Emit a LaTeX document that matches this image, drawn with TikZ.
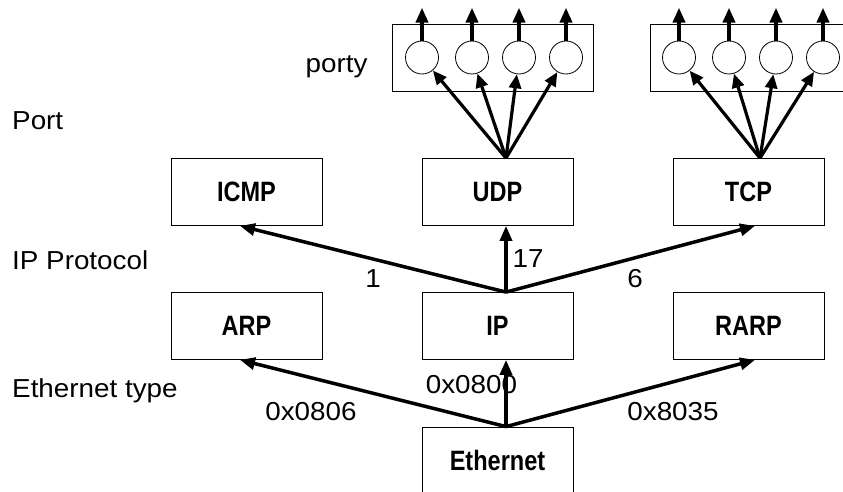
\documentclass[tikz,border=0pt]{standalone}
\usepackage{fontspec}
\setmainfont{Liberation Sans}
\usepackage{graphicx}
\usetikzlibrary{arrows.meta,calc}
\newcommand{\lbltext}[1]{{\fontsize{26}{30}\selectfont\scalebox{1.07}[1]{#1}}}
\newcommand{\boxtext}[1]{{\fontsize{28}{32}\selectfont\bfseries\scalebox{0.84}[1]{#1}}}
\begin{document}
\begin{tikzpicture}[x=1pt,y=-1pt,
  pbox/.style={draw, line width=0.8pt, minimum width=151pt, minimum height=67pt, inner sep=0pt},
  portbox/.style={draw, line width=0.8pt, minimum width=201pt, minimum height=67pt, inner sep=0pt},
  portc/.style={circle, draw, line width=0.8pt, minimum size=33pt, inner sep=0pt},
  flow/.style={line width=3.5pt, -{Triangle[length=15pt,width=12pt]}},
  fan/.style={line width=3.2pt, -{Triangle[length=14pt,width=12pt]}},
  upar/.style={line width=4pt, -{Triangle[length=15pt,width=12pt]}},
  lbl/.style={anchor=base, inner sep=0pt},
  side/.style={anchor=base west, inner sep=0pt}]
\clip (0,0) rectangle (843,492);
\fill[white] (0,0) rectangle (843,492);

% side labels
\node[side] (lport) at (12,129) {\lbltext{Port}};
\node[side] (lipp) at (12,269) {\lbltext{IP Protocol}};
\node[side] (leth) at (12,397) {\lbltext{Ethernet type}};
\node[lbl] (lporty) at (336.5,73) {\lbltext{porty}};

% boxes
\node[pbox] (ICMP) at (246.5,192) {\boxtext{ICMP}};
\node[pbox] (UDP) at (497.5,192) {\boxtext{UDP}};
\node[pbox] (TCP) at (748.5,192) {\boxtext{TCP}};
\node[pbox] (ARP) at (246.5,326) {\boxtext{ARP}};
\node[pbox] (IP) at (497.5,326) {\boxtext{IP}};
\node[pbox] (RARP) at (748.5,326) {\boxtext{RARP}};
\node[pbox] (ETH) at (497.5,460.5) {\boxtext{Ethernet}};

% port boxes and circles
\node[portbox] (PU) at (492.5,57.5) {};
\node[portbox] (PT) at (750.5,57.5) {};
\foreach \n/\x in {1/422,2/472,3/519,4/566,5/679,6/729,7/776,8/823}{
  \node[portc] (c\n) at (\x,57.5) {};
  \coordinate (u\n) at ($(c\n.north)+(0,-33)$);
  \draw[upar] (c\n.north) -- (u\n);
}

% edge labels
\node[lbl] (l1) at (373,287) {\lbltext{1}};
\node[lbl] (l17) at (528,267) {\lbltext{17}};
\node[lbl] (l6) at (635,287) {\lbltext{6}};
\node[lbl] (l0806) at (311,420) {\lbltext{0x0806}};
\node[lbl] (l0800) at (471.5,393) {\lbltext{0x0800}};
\node[lbl] (l8035) at (673,420) {\lbltext{0x8035}};

% connection points
\coordinate (udpTop) at ($(UDP.north)+(8.5,0)$);
\coordinate (tcpTop) at ($(TCP.north)+(11.5,0)$);
\coordinate (ipTop) at ($(IP.north)+(8.5,0)$);
\coordinate (ethTop) at ($(ETH.north)+(8.5,0)$);
\coordinate (icmpIn) at ($(ICMP.south)+(-6.5,0)$);
\coordinate (udpIn) at ($(UDP.south)+(8.5,0)$);
\coordinate (tcpIn) at ($(TCP.south)+(6.5,0)$);
\coordinate (arpIn) at ($(ARP.south)+(-6.5,0)$);
\coordinate (ipIn) at ($(IP.south)+(8.5,0)$);
\coordinate (rarpIn) at ($(RARP.south)+(6.5,0)$);

% fans to ports
\foreach \n in {1,2,3,4}{ \draw[fan] (udpTop) -- (c\n); }
\foreach \n in {5,6,7,8}{ \draw[fan] (tcpTop) -- (c\n); }

% IP protocol arrows
\draw[flow] (ipTop) -- (icmpIn);
\draw[flow] (ipTop) -- (udpIn);
\draw[flow] (ipTop) -- (tcpIn);

% Ethernet type arrows
\draw[flow] (ethTop) -- (arpIn);
\draw[flow] (ethTop) -- (ipIn);
\draw[flow] (ethTop) -- (rarpIn);
\end{tikzpicture}
\end{document}
